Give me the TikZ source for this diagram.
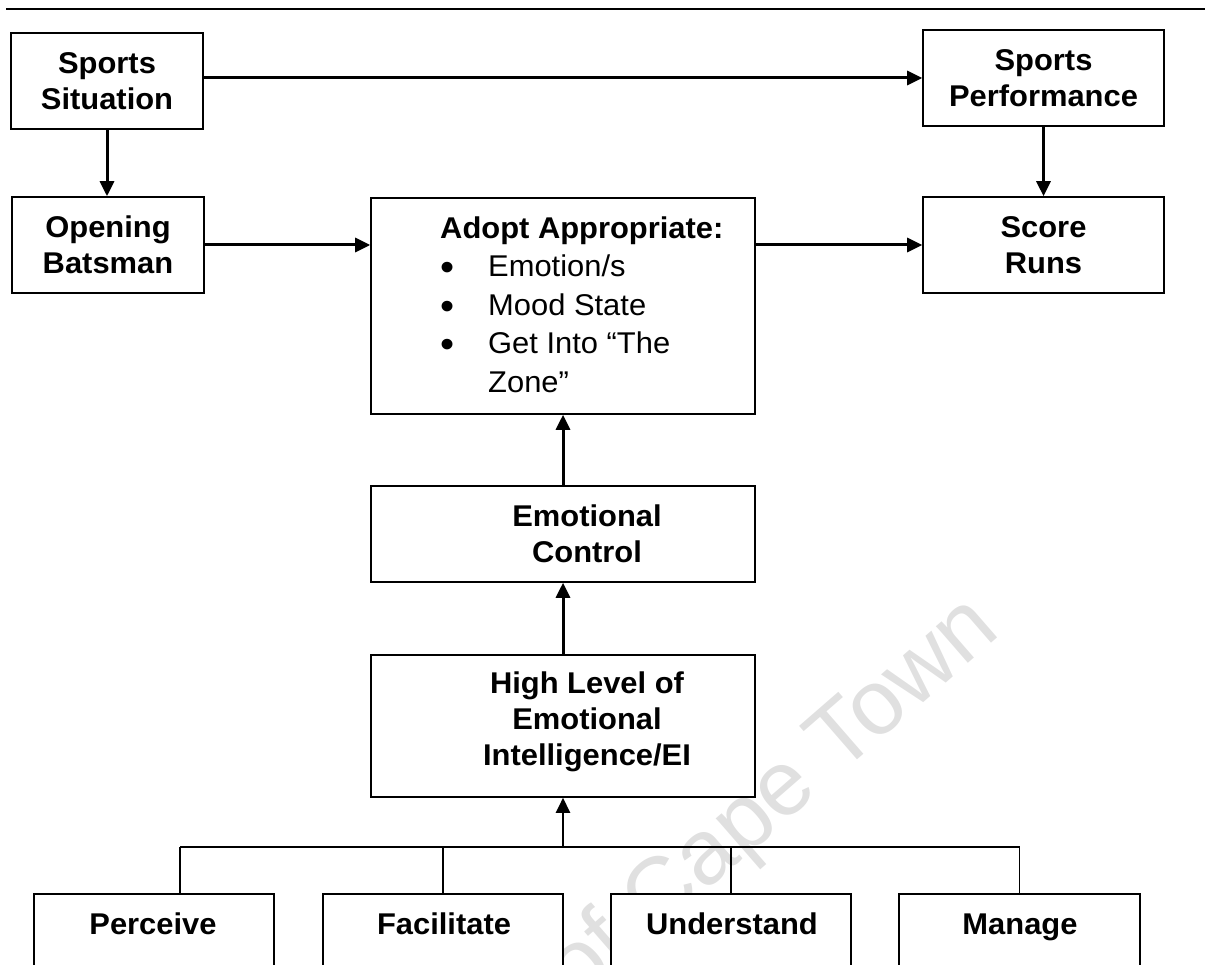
\documentclass[tikz,border=0pt]{standalone}
\usepackage{fontspec}
\setmainfont{Liberation Sans}[FakeStretch=1.03]
\newfontfamily\wmfont{Liberation Sans}
\usetikzlibrary{arrows.meta}
\newcommand\diagfont{\fontsize{30pt}{36pt}\selectfont}
\newcommand\bitem{\makebox[48pt][l]{\hspace{0pt}\raisebox{-4pt}{\scalebox{1.3}{\textbullet}}}}
\begin{document}
\begin{tikzpicture}[x=1pt,y=-1pt,
  box/.style={draw=black, line width=1.6pt, fill=white, inner sep=0pt},
  lbl/.style={font={\diagfont\bfseries}, align=center, inner sep=0pt},
  flow/.style={line width=3pt, -{Triangle[length=15pt,width=14pt]}},
  branch/.style={line width=1.4pt},
  wm/.style={font={\wmfont\fontsize{92pt}{92pt}\selectfont}, text=black!12, inner sep=0pt},
]
\useasboundingbox (0,0) rectangle (1212,965);
\clip (0,0) rectangle (1212,965);

% faint watermark underneath everything
\node[wm, rotate=41, anchor=base east] (wmark) at (1002,634) {of Cape Town};

% rule along the top
\coordinate (rl) at (6,9);
\coordinate (rr) at (1205,9);
\draw[line width=2pt] (rl) -- (rr);

% upper row
\node[box, lbl, minimum width=192, minimum height=96] (ss) at (107,81) {Sports\\Situation};
\node[box, lbl, minimum width=241, minimum height=96] (sp) at (1043.5,78) {Sports\\Performance};
\node[box, lbl, minimum width=192, minimum height=96] (ob) at (108,245) {Opening\\Batsman};
\node[box, lbl, minimum width=241, minimum height=96] (sr) at (1043.5,245) {Score\\Runs};

% central column
\node[box, minimum width=384, minimum height=216] (ad) at (563,306) {};
\node[box, minimum width=384, minimum height=96] (ec) at (563,534) {};
\node[box, minimum width=384, minimum height=142] (hl) at (563,726) {};

\node[anchor=base west, align=left, inner sep=0pt,
      font={\fontsize{30pt}{38.5pt}\selectfont}] (adtext) at (440,392)
  {\textbf{Adopt Appropriate:}\\
   \bitem Emotion/s\\
   \bitem Mood State\\
   \bitem Get Into “The\\
   \hspace*{48pt}Zone”};
\node[lbl] (ectext) at (587,534) {Emotional\\Control};
\node[lbl] (hltext) at (587,722) {High Level of\\Emotional\\Intelligence/EI};

% lower row, running off the bottom edge
\node[box, minimum width=240, minimum height=116] (pe) at (154,952) {};
\node[box, minimum width=240, minimum height=116] (fa) at (443,952) {};
\node[box, minimum width=240, minimum height=116] (un) at (731,952) {};
\node[box, minimum width=241, minimum height=116] (ma) at (1019.5,952) {};
\node[lbl, anchor=base] (petext) at (153,934) {Perceive};
\node[lbl, anchor=base] (fatext) at (444,934) {Facilitate};
\node[lbl, anchor=base] (untext) at (732,934) {Understand};
\node[lbl, anchor=base] (matext) at (1020,934) {Manage};

% flow arrows
\draw[flow] (ss.east |- sp.west) -- (sp.west);
\draw[flow] (ss.south) -- (ss.south |- ob.north);
\draw[flow] (ob.east) -- (ob.east -| ad.west);
\draw[flow] (ad.east |- sr.west) -- (sr.west);
\draw[flow] (sp.south) -- (sp.south |- sr.north);
\draw[flow] (ec.north) -- (ad.south);
\draw[flow] (hl.north) -- (ec.south);

% branches joining the four abilities
\coordinate (bus) at (563,847);
\coordinate (pdrop) at (180,847);
\draw[branch] (pdrop) -- (ma.north |- bus) -- (ma.north);
\draw[branch] (pdrop) -- (pdrop |- pe.north);
\draw[branch] (fa.north |- bus) -- (fa.north);
\draw[branch] (un.north |- bus) -- (un.north);
\draw[flow, line width=2.5pt] (bus) -- (hl.south);
\end{tikzpicture}
\end{document}
